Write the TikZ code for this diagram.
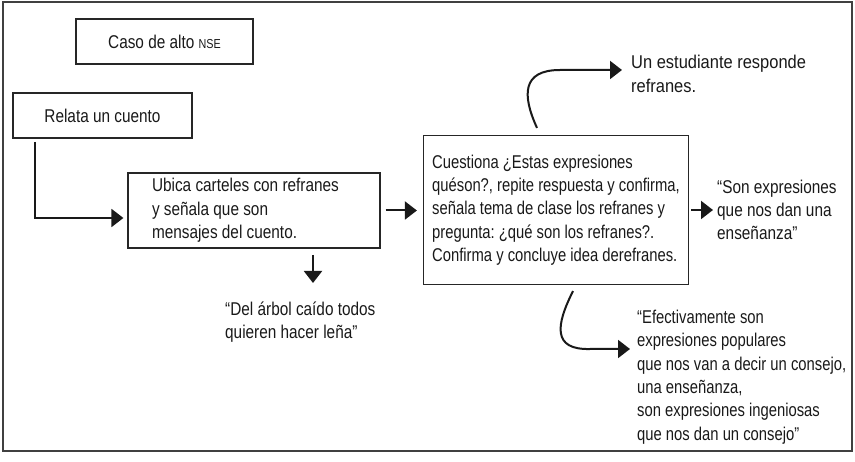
\documentclass[tikz,border=0pt]{standalone}
\usepackage{fontspec}
\setmainfont{Liberation Sans}[FakeStretch=0.83]
\newfontfamily\narrowfont{Liberation Sans}[FakeStretch=0.80]
\newfontfamily\widefont{Liberation Sans}[FakeStretch=0.89]
\newcommand\txtsize{\fontsize{18.5}{23.3}\selectfont}
\usetikzlibrary{arrows.meta,positioning}
\frenchspacing

\begin{document}
\begin{tikzpicture}[x=1pt,y=-1pt,
    box/.style={draw=black!85, line width=1.2pt, inner sep=0pt},
    txt/.style={anchor=west, align=left, inner sep=0pt},
    narrow/.style={font=\narrowfont\txtsize},
    wide/.style={font=\widefont\txtsize},
    arr/.style={draw=black!90, -{Triangle[length=12pt,width=18pt]}, line width=2pt},
    font=\txtsize, text=black!90
  ]
  \useasboundingbox (0,0) rectangle (855,462);
  \draw[black!75, line width=1.2pt] (3,2) rectangle (852,451);
  % boxes
  \node[box, minimum width=177pt, minimum height=45pt] (caso) at (164.5,41.5)
    {Caso de alto {\fontsize{13}{15}\selectfont NSE}};
  \node[box, minimum width=179pt, minimum height=45pt] (relata) at (102.5,115.5)
    {Relata un cuento};
  \node[box, minimum width=252pt, minimum height=75pt, text width=204pt, align=flush left] (ubica) at (254,210.5)
    {Ubica carteles con refranes\\ y señala que son\\ mensajes del cuento.};
  \node[box, narrow, minimum width=265pt, minimum height=149pt, align=left] (cuestiona) at (556,210)
    {Cuestiona ¿Estas expresiones\\ quéson?, repite respuesta y confirma,\\ señala tema de clase los refranes y\\
     pregunta: ¿qué son los refranes?.\\ Confirma y concluye idea derefranes.};
  % free texts
  \node[txt] (arbol) at (225,322) {“Del árbol caído todos\\ quieren hacer leña”};
  \node[txt, wide] (estud) at (631,74) {Un estudiante responde\\ refranes.};
  \node[txt] (son) at (717,210) {“Son expresiones\\ que nos dan una\\ enseñanza”};
  \node[txt, narrow] (efec) at (637,377) {“Efectivamente son\\ expresiones populares\\ que nos van a decir un consejo,\\
    una enseñanza,\\ son expresiones ingeniosas\\ que nos dan un consejo”};
  % arrows
  \coordinate (ra) at (35,142);
  \draw[arr] (ra) |- ([xshift=-4pt,yshift=-7.5pt]ubica.west);
  \draw[arr, shorten <=5pt, shorten >=6pt] (ubica.east) -- (ubica.east -| cuestiona.west);
  \coordinate (da) at (313,255);
  \coordinate (db) at (313,283);
  \draw[arr] (da) -- (db);
  \draw[arr, shorten <=2pt, shorten >=4pt] (cuestiona.east) -- (cuestiona.east -| son.west);
  \draw[arr] ([xshift=-19pt,yshift=7pt]cuestiona.north) .. controls (522,95) and (522,70) .. (560,70)
    -- ([xshift=-9pt,yshift=4pt]estud.west);
  \draw[arr] ([xshift=17pt,yshift=-6pt]cuestiona.south) .. controls (556,325) and (552,350) .. (590,349)
    -- ([xshift=-7pt,yshift=28pt]efec.west);
\end{tikzpicture}
\end{document}
